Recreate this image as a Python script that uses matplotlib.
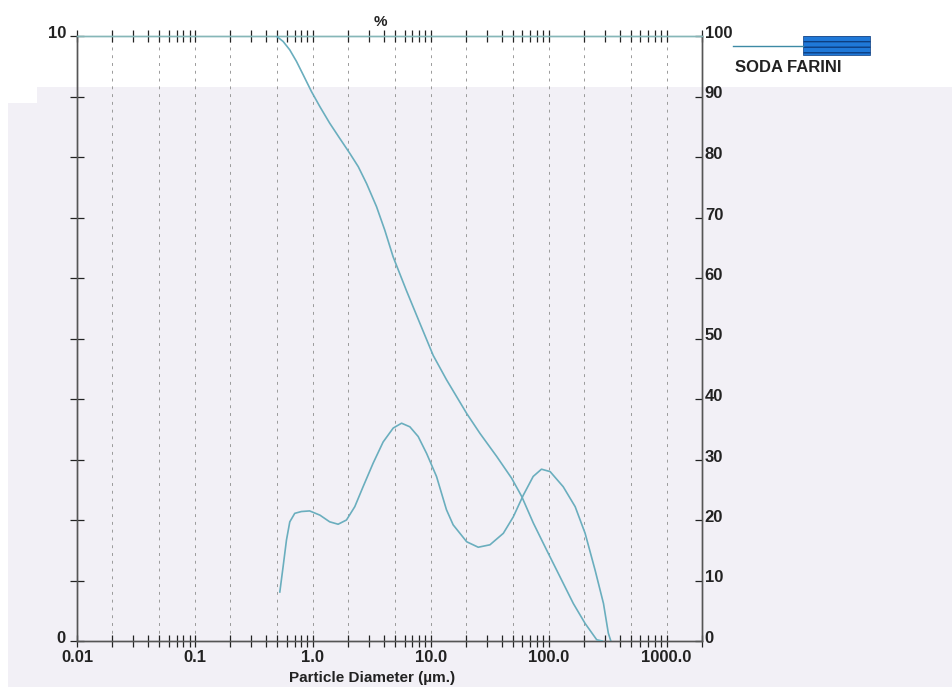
import matplotlib
matplotlib.use('Agg')
import matplotlib.pyplot as plt
import matplotlib.transforms as mtransforms
from matplotlib.patches import Rectangle
from matplotlib.lines import Line2D
from matplotlib.ticker import FixedLocator, LogLocator, NullFormatter

plt.rcParams['font.family'] = ['Liberation Sans', 'DejaVu Sans']

# cumulative curve (right axis, %)
diam_cum = [0.49, 0.56, 0.638, 0.727, 0.828, 0.975, 1.15, 1.39, 1.69, 2.06, 2.43,
            2.86, 3.47, 4.08, 4.8, 6.2, 8.1, 10.5, 13.6, 16.0, 20.2, 26.2, 36.3,
            48.6, 59.1, 74.2, 96.4, 125, 162, 204, 256, 285]
cum_pct = [100, 99.1, 97.7, 95.8, 93.6, 90.8, 88.3, 85.6, 83.1, 80.6, 78.4,
           75.6, 71.8, 67.9, 63.5, 58.0, 52.5, 47.2, 43.2, 40.9, 37.6, 34.3, 30.5,
           26.9, 23.9, 19.5, 15.0, 10.6, 6.2, 2.9, 0.2, 0.0]

# frequency curve (left axis, 0-10)
diam_freq = [0.525, 0.56, 0.598, 0.638, 0.703, 0.80, 0.94, 1.15, 1.39, 1.64, 1.93,
             2.27, 2.67, 3.25, 3.95, 4.81, 5.66, 6.66, 7.83, 9.23, 11.2, 13.6, 15.5,
             20.2, 25.3, 31.8, 41.3, 50.1, 61, 74, 87, 103, 133, 168, 204, 248,
             292, 321, 337]
freq_val = [0.81, 1.23, 1.67, 1.97, 2.11, 2.14, 2.15, 2.08, 1.97, 1.93, 2.00,
            2.22, 2.55, 2.94, 3.29, 3.52, 3.60, 3.54, 3.38, 3.10, 2.72, 2.17, 1.92,
            1.64, 1.55, 1.59, 1.78, 2.05, 2.41, 2.72, 2.84, 2.80, 2.55, 2.22, 1.78,
            1.17, 0.62, 0.13, 0.0]

x_major = [0.01, 0.1, 1, 10, 100, 1000]
x_labels = ['0.01', '0.1', '1.0', '10.0', '100.0', '1000.0']
grid_x = [0.02, 0.05, 0.1, 0.2, 0.5, 1, 2, 5, 10, 20, 50, 100, 200, 500, 1000]
left_ticks = list(range(0, 11))
left_labels = ['0'] + [''] * 9 + ['10']
right_ticks = list(range(0, 101, 10))

curve_col = '#6aaebe'
W, H = 952, 687

fig = plt.figure(figsize=(W / 100, H / 100), dpi=100)
fig.patch.set_facecolor('white')

# scanned paper shading
fig.patches.append(Rectangle((37 / W, 0), 1 - 37 / W, 1 - 87 / H, transform=fig.transFigure,
                             facecolor='#f2f0f6', edgecolor='none', zorder=-10))
fig.patches.append(Rectangle((8 / W, 0), 29 / W, 1 - 103 / H, transform=fig.transFigure,
                             facecolor='#f2f0f6', edgecolor='none', zorder=-10))

ax = fig.add_axes([77 / W, 1 - 641 / H, (702 - 77) / W, (641 - 36) / H])
ax.set_facecolor('none')
ax.set_xscale('log')
ax.set_xlim(0.01, 2000)
ax.set_ylim(0, 10)

for g in grid_x:
    ax.axvline(g, color='#9a9a9a', ls=(0, (3, 5)), lw=0.7, zorder=1)

ax.plot(diam_freq, freq_val, color=curve_col, lw=1.2, zorder=3)

ax.xaxis.set_major_locator(FixedLocator(x_major))
ax.set_xticklabels(x_labels)
ax.xaxis.set_minor_locator(LogLocator(base=10, subs=range(2, 10)))
ax.xaxis.set_minor_formatter(NullFormatter())
ax.tick_params(axis='x', which='both', direction='inout', length=9, width=0.9,
               top=True, labeltop=False, pad=2, labelsize=12, colors='#222222')
for lab in ax.get_xticklabels():
    lab.set_fontweight('bold')

ax.set_yticks(left_ticks)
ax.set_yticklabels(left_labels)
ax.tick_params(axis='y', direction='inout', length=10, width=0.9, pad=3,
               labelsize=12, colors='#222222')

ax2 = ax.twinx()
ax2.set_ylim(0, 100)
ax2.plot(diam_cum, cum_pct, color=curve_col, lw=1.2, zorder=3)
ax2.set_yticks(right_ticks)
ax2.tick_params(axis='y', direction='in', length=5, width=0.9, pad=2,
                labelsize=12, colors='#222222')

for a in (ax, ax2):
    for s in a.spines.values():
        s.set_color('#555555')
        s.set_linewidth(1.0)
    a.spines['top'].set_color('#86b7b8')

up = mtransforms.ScaledTranslation(0, 4 / 100, fig.dpi_scale_trans)
for lab in ax.get_yticklabels() + ax2.get_yticklabels():
    lab.set_fontweight('bold')
    lab.set_transform(lab.get_transform() + up)

fig.text(380 / W, 1 - 22 / H, '%', ha='center', va='center', fontsize=11,
         fontweight='bold', color='#222222')
fig.text(372 / W, 1 - 678 / H, 'Particle Diameter (µm.)', ha='center', va='center',
         fontsize=11, fontweight='bold', color='#222222')

# legend
fig.add_artist(Line2D([733 / W, 803 / W], [1 - 46 / H, 1 - 46 / H], transform=fig.transFigure,
                      color='#3d8aa5', lw=1.0))
fig.patches.append(Rectangle((803 / W, 1 - 55 / H), 67 / W, 19 / H, transform=fig.transFigure,
                             facecolor='#1f78d8', edgecolor='#0d3e80', lw=0.5, hatch='---'))
fig.text(735 / W, 1 - 68 / H, 'SODA FARINI', ha='left', va='center', fontsize=12,
         fontweight='bold', color='#222222')

fig.savefig('out.png', dpi=100)
